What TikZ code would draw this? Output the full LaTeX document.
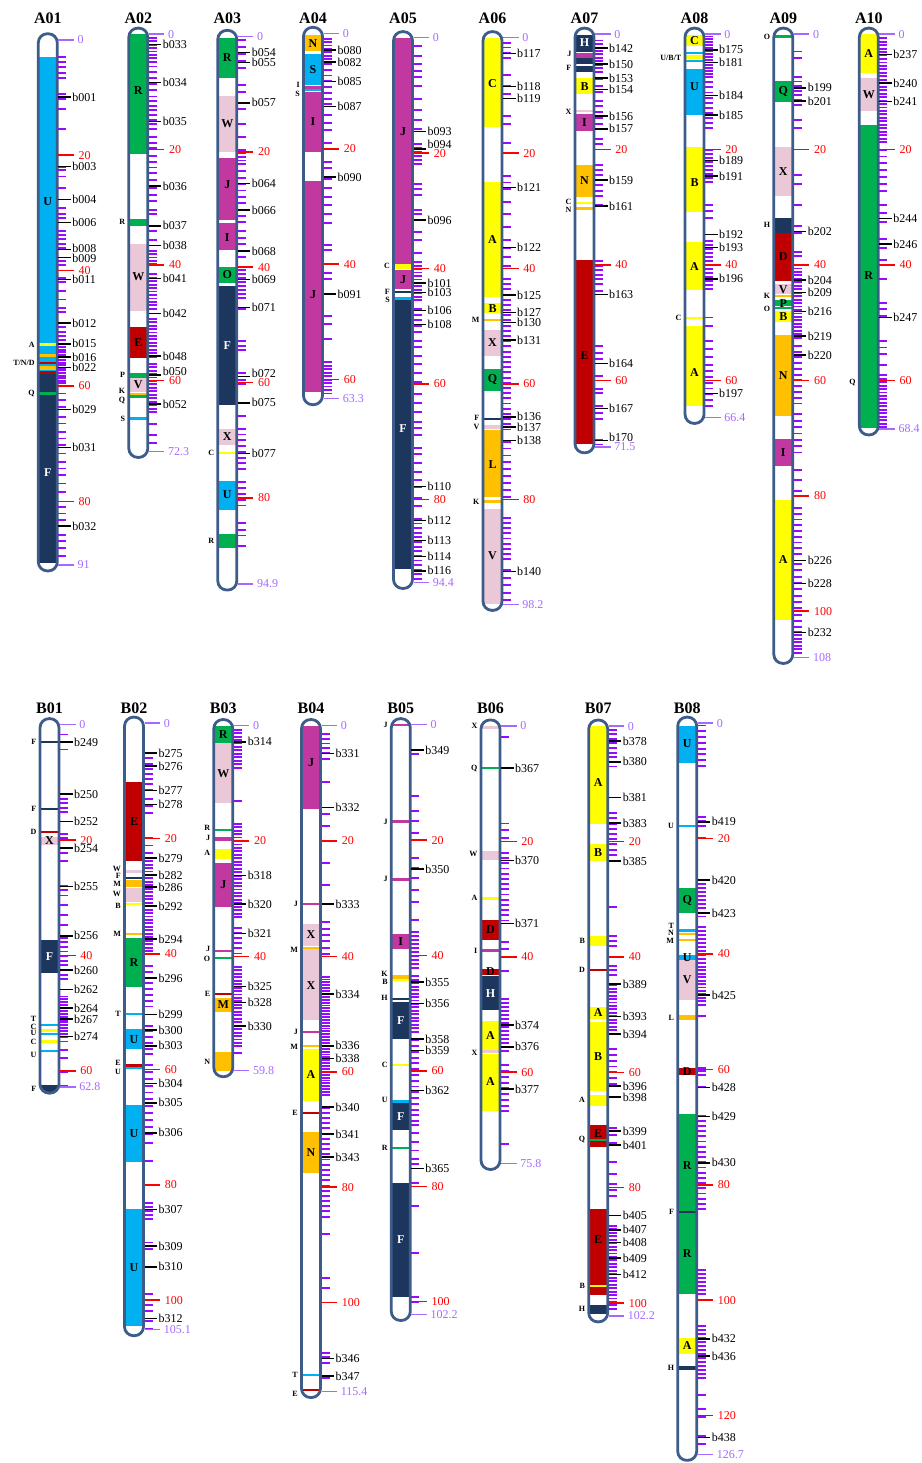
\documentclass[tikz,border=0pt]{standalone}
\usepackage{fontspec}
\setmainfont{Liberation Serif}
\definecolor{cU}{RGB}{0,176,240}
\definecolor{cF}{RGB}{28,54,94}
\definecolor{cR}{RGB}{0,176,80}
\definecolor{cW}{RGB}{234,200,216}
\definecolor{cJ}{RGB}{192,56,160}
\definecolor{cE}{RGB}{192,0,0}
\definecolor{cA}{RGB}{255,255,0}
\definecolor{cN}{RGB}{255,192,0}
\definecolor{outc}{RGB}{62,92,138}
\definecolor{tkc}{RGB}{150,10,255}
\definecolor{endc}{RGB}{165,105,255}
\tikzset{
 outl/.style={draw=outc, line width=2.8pt},
 tkl/.style={draw=tkc, line width=1.9pt},
 mkl/.style={draw=black, line width=1.5pt},
 mkt/.style={anchor=west, inner sep=0.8pt, font=\fontsize{12}{12}\selectfont},
 rdl/.style={draw=red, line width=1.5pt},
 rdt/.style={anchor=west, inner sep=0pt, xshift=4pt, text=red, font=\fontsize{12}{12}\selectfont},
 endl/.style={draw=endc, line width=1.5pt},
 endt/.style={anchor=west, inner sep=0pt, xshift=3pt, text=endc, font=\fontsize{12}{12}\selectfont},
 ttl/.style={font=\bfseries\fontsize{16}{16}\selectfont},
 blt/.style={inner sep=0pt, font=\bfseries\fontsize{12}{12}\selectfont},
 lfl/.style={anchor=east, inner sep=0pt, font=\bfseries\fontsize{8}{8}\selectfont},
}
\newcommand\xblk[3]{\fill[#1] (-11,#2) rectangle (11,#3);}
\newcommand\xbnd[2]{\fill[#1] (-11,#2-0.2) rectangle (11,#2+0.2);}
\newcommand\xlt[2]{\node[blt] at (0,#1) {#2};}
\newcommand\xltw[2]{\node[blt,text=white] at (0,#1) {#2};}
\newcommand\xlf[2]{\node[lfl] at (-13,#1) {#2};}
\newcommand\xmk[2]{\draw[mkl] (10.5,#1) -- (23,#1) node[mkt] {#2};}
\newcommand\xmkn[3]{\draw[mkl] (10.5,#1) -- (23,#1) node[mkt,yshift=#3] {#2};}
\newcommand\xtk[1]{\foreach \myt in {#1}{\draw[tkl] (10.5,\myt) -- (18.5,\myt);}}
\newcommand\xtr[3]{\pgfmathsetmacro\mytrn{int(round((#2-#1)/#3))}\foreach \myi in {0,...,\mytrn}{\pgfmathsetmacro\mytv{#1+\myi*#3}\draw[tkl] (10.5,\mytv) -- (18.5,\mytv);}}
\newcommand\xrd[1]{\foreach \myrv in {#1}{\draw[rdl] (10.5,\myrv) -- (26,\myrv) node[rdt] {\myrv};}}
\newcommand\Chrom[6]{%
\node[ttl] (t#6) at (#1,{#2<300?18:708}) {#6};
\begin{scope}[shift={(#1,#2)},y=-5.77pt]
 \fill[white,rounded corners=9pt] (-9.5,-1.05) rectangle (9.5,#3+1.05);
 \begin{scope}
 \clip[rounded corners=9pt] (-9.5,-1.05) rectangle (9.5,#3+1.05);
 #4
 \end{scope}
 \draw[outl,rounded corners=9pt] (-9.5,-1.05) rectangle (9.5,#3+1.05);
 #5
 \draw[endl] (10.5,0) -- (26,0) node[endt] {0};
 \draw[endl] (10.5,#3) -- (26,#3) node[endt] {#3};
\end{scope}}
\begin{document}
\begin{tikzpicture}[x=1pt,y=-1pt]
\useasboundingbox (0,0) rectangle (921,1463);
% ---------------- A01
\Chrom{47.8}{39.8}{91}{%
\xblk{cU}{3.0}{57.9}\xbnd{cA}{52.8}\xblk{cN}{54.4}{55.0}\xblk{cE}{55.8}{56.2}\xblk{cN}{56.6}{57.2}\xblk{cE}{57.4}{57.9}
\xblk{cF}{57.9}{90.6}\xbnd{cR}{61.3}\xlt{28}{U}\xltw{75}{F}}{%
\xlf{52.8}{A}\xlf{56.0}{T/N/D}\xlf{61.3}{Q}
\xtk{3.0,3.9,4.7,5.7,6.6,9.4,10.3,12.0,15.4,22.0,22.5,23.7,25.7,29.2,30.2,30.9,33.1,33.9,34.6,35.4,36.1,38.3,39.1,41.3,42.0,43.5,45.0,46.5,47.2,49.8,50.6,51.3,52.1}
\xtr{52.8}{59.8}{0.45}
\xtk{61.3,62.4,63.6,65.4,66.5,68.0,69.1,70.2,71.7,73.2,74.3,75.4,76.9,78.4,81.0,82.1,83.2,84.3,85.8,86.9,88.0,89.5}
\xrd{20,40,60,80}
\xmk{9.9}{b001}\xmk{22.0}{b003}\xmk{27.7}{b004}\xmk{31.7}{b006}\xmkn{36.3}{b008}{1pt}\xmkn{37.7}{b009}{-1pt}\xmk{41.5}{b011}\xmk{49.1}{b012}\xmk{52.7}{b015}\xmk{55.0}{b016}\xmk{56.8}{b022}\xmk{64.1}{b029}\xmk{70.7}{b031}\xmk{84.3}{b032}}{A01}
% ---------------- A02
\Chrom{138.3}{34.2}{72.3}{%
\xblk{cR}{0}{20.8}\xblk{cR}{32.0}{33.2}\xblk{cW}{36.3}{47.9}\xblk{cE}{50.8}{56.2}\xblk{cR}{58.7}{59.5}\xblk{cW}{59.6}{62.0}
\xbnd{cN}{62.3}\xblk{cR}{62.6}{63.1}\xbnd{cU}{66.6}
\xlt{9.8}{R}\xlt{42}{W}\xlt{53.5}{E}\xlt{60.8}{V}}{%
\xlf{32.6}{R}\xlf{59.1}{P}\xlf{61.9}{K}\xlf{63.4}{Q}\xlf{66.6}{S}
\xtr{0.6}{4.8}{0.6}\xtr{5.6}{9.6}{1}\xtr{10.8}{16.4}{0.8}
\xtk{17.8,18.8,19.7,21.1,22.1,23.1,24.1,25.2,26.7,27.8,28.9,30.4,31.2,34.1,35.6}
\xtr{37.5}{40}{0.6}\xtr{41.6}{47.6}{0.6}\xtr{49.3}{55.7}{0.6}\xtr{57.1}{65.3}{0.6}\xtk{67.5,69.4,70.8}
\xrd{20,40,60}
\xmk{1.8}{b033}\xmk{8.4}{b034}\xmk{15.1}{b035}\xmk{26.3}{b036}\xmk{33.2}{b037}\xmk{36.6}{b038}\xmk{42.3}{b041}\xmk{48.4}{b042}\xmk{55.8}{b048}\xmkn{59.1}{b050}{4pt}\xmk{64.1}{b052}}{A02}
% ---------------- A03
\Chrom{227.3}{36.4}{94.9}{%
\xblk{cR}{0.2}{7.2}\xblk{cW}{10.4}{20.1}\xblk{cJ}{21.0}{31.8}\xblk{cJ}{32.4}{37.0}\xblk{cR}{39.9}{42.7}\xblk{cF}{43.3}{63.9}
\xblk{cW}{68.1}{70.8}\xbnd{cA}{72.2}\xblk{cU}{77.0}{82.0}\xblk{cR}{86.2}{88.6}
\xlt{3.7}{R}\xlt{15.2}{W}\xlt{25.7}{J}\xlt{34.8}{I}\xlt{41.3}{O}\xltw{53.5}{F}\xlt{69.4}{X}\xlt{79.5}{U}}{%
\xlf{72.2}{C}\xlf{87.4}{R}
\xtr{0.7}{5.6}{1.2}\xtk{8.5,9.7,11.5,12.6,15.2,17.5}\xtr{19.7}{21.9}{0.6}\xtr{23.4}{32.3}{1.1}
\xtk{33.8,34.9,36,37.2,38.3}\xtr{40.5}{45.7}{0.7}\xtk{47.2,52.8,53.6,54.3,58.3,59.5,60.2,65.8}\xtr{68}{75.4}{1}\xtr{77.3}{81.4}{1}\xtk{84.3,85.5,86.5,88.3}
\xrd{20,40,60,80}
\xmk{2.8}{b054}\xmk{4.5}{b055}\xmk{11.5}{b057}\xmk{25.5}{b064}\xmk{30.1}{b066}\xmk{37.2}{b068}\xmk{42.1}{b069}\xmk{47.0}{b071}\xmkn{58.9}{b072}{3pt}\xmk{63.5}{b075}\xmk{72.3}{b077}}{A03}
% ---------------- A04
\Chrom{313}{33.4}{63.3}{%
\xblk{cN}{0.3}{3.1}\xblk{cU}{3.5}{9.0}\xbnd{cJ}{9.4}\xbnd{cU}{9.8}\xblk{cJ}{10.1}{20.5}\xblk{cJ}{25.6}{62.1}
\xlt{1.7}{N}\xlt{6.2}{S}\xlt{15.2}{I}\xlt{45.2}{J}}{%
\xlf{8.9}{I}\xlf{10.5}{S}
\xtr{0.9}{4.6}{0.6}\xtr{5.3}{12.7}{1}\xtk{14.2,15.5,16.8,19,22.3,23.4}\xtr{25.3}{32.7}{1.5}\xtk{36.7,37.5,41.5,42.6,48.9,50.4,53}\xtr{57}{62.2}{0.6}
\xrd{20,40,60}
\xmk{2.9}{b080}\xmk{5.0}{b082}\xmk{8.3}{b085}\xmk{12.7}{b087}\xmk{24.9}{b090}\xmk{45.2}{b091}}{A04}
% ---------------- A05
\Chrom{403}{37.7}{94.4}{%
\xblk{cJ}{0}{39.2}\xblk{cA}{39.3}{40.1}\xblk{cJ}{40.3}{43.6}\xbnd{cF}{44.1}\xbnd{cU}{45.2}\xblk{cF}{45.4}{92.1}
\xlt{16.3}{J}\xlt{42}{J}\xltw{67.8}{F}}{%
\xlf{39.5}{C}\xlf{44.0}{F}\xlf{45.5}{S}
\xtk{1.5,3.1,4.6,5.7,6.8,8.3,10.6,12.5,14.3,15.8}\xtr{18.4}{22.1}{0.7}\xtk{25.4,26.2,27.3,29.9,30.6,33.6,35.1,37.3,38.8}
\xtr{39.5}{45.5}{0.6}\xtr{47}{50.7}{1}\xtk{52.5,53.6,55.1,56.6,58.1,59.6,61.8,63.3,64.8,66.6,67.7,68.9,71.1,72.2,73.7,75.2,76.7,77.8,79.7,81.1}\xtr{83.4}{93.8}{0.8}
\xrd{20,40,60,80}
\xmk{16.3}{b093}\xmkn{19.3}{b094}{5pt}\xmk{31.6}{b096}\xmk{42.5}{b101}\xmk{44.2}{b103}\xmk{47.3}{b106}\xmk{49.7}{b108}\xmk{77.8}{b110}\xmk{83.7}{b112}\xmk{87.1}{b113}\xmk{89.9}{b114}\xmk{92.4}{b116}}{A05}
% ---------------- A06
\Chrom{492.5}{37.7}{98.2}{%
\xblk{cA}{0}{15.5}\xblk{cA}{25.0}{44.9}\xblk{cA}{46.0}{47.7}\xbnd{cN}{48.9}\xblk{cW}{50.7}{55.1}\xblk{cR}{57.4}{61.2}
\xbnd{cF}{66.1}\xblk{cW}{67.2}{67.8}\xblk{cN}{68.0}{79.6}\xbnd{cN}{80.4}\xblk{cW}{81.7}{98.2}
\xlt{8}{C}\xlt{35}{A}\xlt{46.9}{B}\xlt{52.9}{X}\xlt{59.3}{Q}\xlt{74}{L}\xlt{89.8}{V}}{%
\xlf{48.9}{M}\xlf{65.9}{F}\xlf{67.4}{V}\xlf{80.4}{K}
\xtk{0.9,1.7,2.6,3.5,6.5,8.3,9.8,13.5,15,18.2,24,25.1,26.2,28.4,30.6,32.8,35,36.5,38,39.5}\xtr{41.8}{67.8}{0.9}\xtr{70}{80}{1.2}\xtr{83.2}{90}{0.9}\xtr{92.3}{97.5}{1.3}
\xrd{20,40,60,80}
\xmk{2.7}{b117}\xmk{8.5}{b118}\xmk{10.5}{b119}\xmk{26.0}{b121}\xmk{36.4}{b122}\xmk{44.6}{b125}\xmk{47.6}{b127}\xmk{49.4}{b130}\xmk{52.4}{b131}\xmk{65.7}{b136}\xmk{67.5}{b137}\xmk{69.8}{b138}\xmk{92.5}{b140}}{A06}
% ---------------- A07
\Chrom{584.5}{34.2}{71.5}{%
\xblk{cF}{0.1}{3.0}\xblk{cJ}{3.2}{4.1}\xblk{cF}{4.2}{6.5}\xbnd{white}{5.3}\xblk{cA}{7.6}{10.4}\xblk{cW}{13.1}{13.5}\xblk{cJ}{13.9}{16.7}
\xblk{cN}{22.7}{28.2}\xbnd{cA}{29.3}\xbnd{cN}{30.2}\xblk{cE}{39.1}{71.1}
\xltw{1.5}{H}\xlt{9}{B}\xlt{15.3}{I}\xlt{25.4}{N}\xlt{55.7}{E}}{%
\xlf{3.5}{J}\xlf{5.9}{F}\xlf{13.4}{X}\xlf{29.0}{C}\xlf{30.4}{N}
\xtr{1.1}{6.7}{0.6}\xtk{7.8,8.9,10}\xtr{11.5}{15.9}{1}\xtk{18.2,19.1}\xtr{22.6}{28.2}{0.9}\xtk{29.6}\xtr{39.3}{43}{0.8}\xtk{44.5,54.1,55.2,56.3,59.3,61.5,62.2,64.5,65.6,66.7,70.4,71.1}
\xrd{20,40,60}
\xmk{2.4}{b142}\xmk{5.2}{b150}\xmk{7.6}{b153}\xmk{9.6}{b154}\xmk{14.2}{b156}\xmk{16.4}{b157}\xmk{25.3}{b159}\xmk{29.8}{b161}\xmk{45.1}{b163}\xmk{57.1}{b164}\xmk{64.9}{b167}\xmkn{70.4}{b170}{3pt}}{A07}
% ---------------- A08
\Chrom{694.5}{34.2}{66.4}{%
\xblk{cA}{0.1}{2.1}\xbnd{cU}{3.2}\xblk{cA}{3.6}{4.3}\xbnd{cU}{4.7}\xblk{cU}{6.1}{14.0}\xblk{cA}{19.6}{30.8}\xblk{cA}{36.1}{44.3}
\xbnd{cA}{49.2}\xblk{cA}{50.6}{64.4}
\xlt{1.1}{C}\xlt{9}{U}\xlt{25.7}{B}\xlt{40.3}{A}\xlt{58.6}{A}}{%
\xlf{4.1}{U/B/T}\xlf{49.2}{C}
\xtr{0.4}{6.7}{0.5}\xtr{7.4}{12.6}{0.9}\xtk{13.7,14.6,15.4,16.3}\xtr{20}{25.9}{0.7}\xtk{29.6,30.7,31.8}\xtr{35.8}{44.3}{0.7}\xtk{49.1,50.6,53.2,54.6,56,57.3}\xtr{58.4}{64.3}{1}
\xrd{20,40,60}
\xmk{2.7}{b175}\xmk{4.9}{b181}\xmk{10.6}{b184}\xmk{14.0}{b185}\xmk{21.9}{b189}\xmk{24.6}{b191}\xmk{34.7}{b192}\xmk{37.0}{b193}\xmk{42.4}{b196}\xmk{62.3}{b197}}{A08}
% ---------------- A09
\Chrom{783.3}{34.2}{108}{%
\xbnd{cR}{0.4}\xblk{cR}{8.1}{11.8}\xblk{cW}{19.6}{28.0}\xblk{cF}{31.8}{34.4}\xblk{cE}{34.4}{42.7}\xblk{cW}{43.3}{45.1}\xbnd{cN}{45.4}
\xblk{cR}{46.0}{47.1}\xbnd{cR}{47.4}\xblk{cA}{47.9}{49.9}\xblk{cN}{52.2}{66.2}\xblk{cJ}{70.1}{74.9}\xblk{cA}{80.7}{101.5}
\xlt{9.9}{Q}\xlt{23.8}{X}\xlt{38.5}{D}\xlt{44.2}{V}\xlt{46.6}{P}\xlt{48.9}{B}\xlt{59.2}{N}\xlt{72.5}{I}\xlt{91.1}{A}}{%
\xlf{0.5}{O}\xlf{33.0}{H}\xlf{45.3}{K}\xlf{47.6}{O}
\xtk{3,4.1}\xtr{7.4}{11.8}{0.8}\xtk{14.8,16.3,24.4,25.9,29.6,33.3,34.4,37.7,38.5}\xtr{40}{52.5}{0.6}\xtr{54}{63.6}{1}\xtr{65.9}{72.5}{1.1}\xtk{75.5,77.3,79.2}\xtr{82.1}{90.3}{1}\xtr{91.8}{102.9}{1.1}\xtr{103.6}{107.3}{0.6}
\xrd{20,40,60,80,100}
\xmk{9.3}{b199}\xmk{11.6}{b201}\xmk{34.2}{b202}\xmk{42.6}{b204}\xmk{44.8}{b209}\xmk{48.1}{b216}\xmk{52.3}{b219}\xmk{55.6}{b220}\xmk{91.2}{b226}\xmk{95.2}{b228}\xmk{103.7}{b232}}{A09}
% ---------------- A10
\Chrom{868.8}{34.2}{68.4}{%
\xblk{cA}{0}{6.7}\xblk{cW}{7.6}{13.3}\xblk{cR}{15.7}{68.2}
\xlt{3.4}{A}\xlt{10.4}{W}\xlt{41.8}{R}}{%
\xlf{60.4}{Q}
\xtr{0.7}{18.5}{0.6}\xtr{20}{27.3}{1.2}\xtk{29.6,31,32.5,35.5,37,39.2,42.5,46.6,47.7,48.8,53.2,54.3,55.4,57.3}\xtr{59.1}{68}{0.6}
\xrd{20,40,60}
\xmk{3.5}{b237}\xmk{8.5}{b240}\xmk{11.7}{b241}\xmk{31.9}{b244}\xmk{36.4}{b246}\xmk{49.1}{b247}}{A10}
% ---------------- B01
\Chrom{49.5}{724.7}{62.8}{%
\xbnd{cF}{3.0}\xbnd{cF}{14.6}\xbnd{cE}{18.6}\xblk{cW}{19.5}{20.8}\xblk{cF}{37.3}{43.1}
\xbnd{cU}{52.0}\xblk{cA}{52.7}{53.2}\xbnd{cU}{53.6}\xblk{cA}{54.6}{55.1}\xbnd{cU}{56.6}\xblk{cF}{62.4}{64}
\xlt{20.1}{X}\xltw{40.2}{F}}{%
\xlf{3.0}{F}\xlf{14.6}{F}\xlf{18.6}{D}\xlf{51.0}{T}\xlf{52.3}{C}\xlf{53.5}{U}\xlf{55.0}{C}\xlf{57.2}{U}\xlf{63.2}{F}
\xtk{1.7,3,4.3}\xtr{12}{15.4}{0.8}\xtk{18.9,19.7,22.3,23.6,27.9,28.7,29.6,31.3,33,34.7}\xtr{36.9}{42.9}{0.8}\xtk{44.1}\xtr{47.1}{54}{0.5}\xtk{54.9,56.3,57.8,60.2,62.6}
\xrd{20,40,60}
\xmk{3.0}{b249}\xmk{12.0}{b250}\xmk{16.8}{b252}\xmk{21.4}{b254}\xmk{28.0}{b255}\xmk{36.6}{b256}\xmk{42.5}{b260}\xmk{45.9}{b262}\xmk{49.1}{b264}\xmk{51.0}{b267}\xmk{54.0}{b274}}{B01}
% ---------------- B02
\Chrom{134}{723.2}{105.1}{%
\xblk{cE}{10.2}{23.9}\xblk{cW}{25.4}{26.0}\xbnd{cF}{26.8}\xblk{cN}{27.2}{28.4}\xblk{cW}{28.6}{31.0}\xbnd{cA}{31.3}\xbnd{cN}{36.5}
\xblk{cR}{37.2}{45.8}\xbnd{cU}{50.4}\xblk{cU}{53.0}{56.5}\xbnd{cE}{59.3}\xbnd{cU}{59.7}\xblk{cU}{66.2}{76.1}\xblk{cU}{84.2}{104.4}
\xlt{17}{E}\xlt{41.5}{R}\xlt{54.8}{U}\xlt{71.2}{U}\xlt{94.3}{U}}{%
\xlf{25.2}{W}\xlf{26.5}{F}\xlf{27.9}{M}\xlf{29.6}{W}\xlf{31.6}{B}\xlf{36.5}{M}\xlf{50.4}{T}\xlf{58.9}{E}\xlf{60.5}{U}
\xtr{5.2}{11.4}{0.9}\xtk{13.1,14.3,15.6,19.9,21.2,22.5}\xtr{23.3}{39.5}{0.6}\xtr{42.1}{48.9}{1}\xtr{52.4}{57.5}{1}\xtr{59.2}{71.1}{1.2}\xtk{72.8,75.8}\xtr{83.1}{85.7}{0.7}\xtk{90,91.2,98.9,99.9,100.9,101.8,103.6,104.9}
\xrd{20,40,60,80,100}
\xmk{5.2}{b275}\xmk{7.4}{b276}\xmk{11.7}{b277}\xmk{14.1}{b278}\xmk{23.4}{b279}\xmk{26.3}{b282}\xmk{28.4}{b286}\xmk{31.7}{b292}\xmk{37.4}{b294}\xmk{44.2}{b296}\xmk{50.5}{b299}\xmk{53.2}{b300}\xmk{55.9}{b303}\xmk{62.4}{b304}\xmk{65.8}{b305}\xmk{71.0}{b306}\xmk{84.3}{b307}\xmk{90.6}{b309}\xmk{94.2}{b310}\xmk{103.2}{b312}}{B02}
% ---------------- B03
\Chrom{223.3}{725.6}{59.8}{%
\xblk{cR}{0}{3.1}\xblk{cW}{3.1}{13.4}\xbnd{cR}{18.1}\xblk{cJ}{19.3}{20.0}\xblk{cA}{21.3}{23.1}\xblk{cJ}{23.8}{31.4}\xbnd{cJ}{39.1}\xbnd{cR}{40.3}
\xbnd{cE}{46.5}\xblk{cN}{47.2}{49.7}\xblk{cN}{56.6}{59.8}
\xlt{1.5}{R}\xlt{8.3}{W}\xlt{27.6}{J}\xlt{48.4}{M}}{%
\xlf{17.8}{R}\xlf{19.5}{J}\xlf{22.1}{A}\xlf{38.7}{J}\xlf{40.5}{O}\xlf{46.5}{E}\xlf{58.3}{N}
\xtr{0.7}{7.5}{0.6}\xtk{13.1}\xtr{17}{33.3}{0.6}\xtr{35}{39.3}{0.9}\xtr{41.8}{55.5}{0.6}\xtk{56.8}
\xrd{20,40}
\xmk{2.8}{b314}\xmk{26.0}{b318}\xmk{30.9}{b320}\xmk{36.0}{b321}\xmk{45.2}{b325}\xmk{48.0}{b328}\xmk{52.1}{b330}}{B03}
% ---------------- B04
\Chrom{311}{725.6}{115.4}{%
\xblk{cJ}{0}{14.4}\xbnd{cJ}{30.9}\xblk{cW}{34.3}{38.2}\xbnd{cN}{38.6}\xblk{cW}{38.8}{51.0}\xbnd{cJ}{53.1}\xbnd{cN}{55.5}
\xblk{cA}{56.0}{65.0}\xbnd{cE}{67.1}\xblk{cN}{70.4}{77.6}\xbnd{cU}{112.5}\xbnd{cE}{115.2}
\xlt{6.5}{J}\xlt{36.2}{X}\xlt{45}{X}\xlt{60.5}{A}\xlt{74}{N}}{%
\xlf{30.9}{J}\xlf{38.9}{M}\xlf{53.1}{J}\xlf{55.7}{M}\xlf{67.1}{E}\xlf{112.5}{T}\xlf{115.9}{E}
\xtk{1.5,2.3,3.1,3.9,4.7,5.8,9.7,15.3,17.4,23.8,27.7}\xtr{34.1}{39.3}{1.1}\xtr{43.5}{64.1}{0.5}\xtr{66.2}{84.7}{0.9}\xtk{88.1,95.8,97.5,108.7,109.5,110.4,113}
\xrd{20,40,60,80,100}
\xmk{4.8}{b331}\xmk{14.2}{b332}\xmk{30.9}{b333}\xmk{46.5}{b334}\xmk{55.5}{b336}\xmk{57.7}{b338}\xmk{66.1}{b340}\xmk{70.8}{b341}\xmk{74.8}{b343}\xmk{109.7}{b346}\xmk{112.7}{b347}}{B04}
% ---------------- B05
\Chrom{400.8}{724.7}{102.2}{%
\xbnd{cJ}{0.1}\xbnd{cJ}{16.8}\xbnd{cJ}{26.8}\xblk{cJ}{36.2}{38.9}\xblk{cN}{43.4}{44.0}\xbnd{cA}{44.3}\xbnd{cF}{47.5}\xblk{cF}{48.1}{54.5}
\xbnd{cA}{59.0}\xblk{cU}{65.0}{65.5}\xblk{cF}{65.5}{70.3}\xbnd{cR}{73.3}\xblk{cF}{79.5}{99.2}
\xlt{37.6}{I}\xltw{51.3}{F}\xltw{67.9}{F}\xltw{89.3}{F}}{%
\xlf{0}{J}\xlf{16.8}{J}\xlf{26.8}{J}\xlf{43.1}{K}\xlf{44.6}{B}\xlf{47.3}{H}\xlf{59.0}{C}\xlf{65.0}{U}\xlf{73.3}{R}
\xtk{4.3,5,12.4,14.9,16.7,18.8,23.1,24.8,26.5,28.6,30.8,33.8}\xtr{35.9}{41.9}{0.7}\xtr{43.6}{53}{0.6}\xtr{54.7}{68.4}{1}\xtk{69.3,70.8,72.3,73.8,75.3,76.1,79.5,83.4,91.5,99.2,100}
\xrd{20,40,60,80,100}
\xmk{4.4}{b349}\xmk{25.0}{b350}\xmk{44.6}{b355}\xmk{48.3}{b356}\xmk{54.5}{b358}\xmk{56.5}{b359}\xmk{63.4}{b362}\xmk{76.9}{b365}}{B05}
% ---------------- B06
\Chrom{490.5}{726}{75.8}{%
\xblk{cW}{0}{0.5}\xbnd{cR}{7.3}\xblk{cW}{21.7}{23.3}\xbnd{cA}{29.9}\xblk{cE}{33.7}{37.0}\xbnd{cJ}{38.9}\xblk{cE}{42.1}{43.2}
\xblk{cF}{43.4}{49.2}\xblk{cA}{51.1}{56.2}\xbnd{cW}{56.4}\xblk{cA}{56.8}{66.7}
\xlt{35.3}{D}\xlt{42.6}{D}\xltw{46.3}{H}\xlt{53.6}{A}\xlt{61.7}{A}}{%
\xlf{0}{X}\xlf{7.3}{Q}\xlf{22.2}{W}\xlf{29.7}{A}\xlf{38.9}{I}\xlf{56.6}{X}
\xtk{1.9,7.3,16.9,18.1,19.4}\xtr{22}{34}{0.9}\xtk{37.4,38.7,40,42.5}\xtr{47.3}{56.2}{0.7}\xtr{58.8}{66.5}{1}\xtk{72.5}
\xrd{20,40,60}
\xmk{7.3}{b367}\xmk{23.3}{b370}\xmk{34.2}{b371}\xmk{51.8}{b374}\xmk{55.6}{b376}\xmk{62.9}{b377}}{B06}
% ---------------- B07
\Chrom{598.2}{726.1}{102.2}{%
\xblk{cA}{0}{17.0}\xblk{cA}{20.5}{23.4}\xblk{cA}{36.4}{38.1}\xbnd{cE}{42.3}\xblk{cA}{48.7}{50.7}\xblk{cA}{51.3}{63.2}\xblk{cA}{63.9}{65.9}
\xblk{cE}{69.2}{73.0}\xbnd{cR}{71.7}\xblk{cE}{83.7}{98.6}\xbnd{cA}{97.0}\xblk{cF}{100.3}{101.8}
\xlt{9.8}{A}\xlt{22}{B}\xlt{49.7}{A}\xlt{57.3}{B}\xlt{70.6}{E}\xlt{89}{E}}{%
\xlf{37.3}{B}\xlf{42.3}{D}\xlf{64.8}{A}\xlf{71.7}{Q}\xlf{97.0}{B}\xlf{101}{H}
\xtr{0.6}{6.6}{0.8}\xtr{15.1}{21.9}{0.9}\xtk{31.3,36.4,37.2,38.1,41.5,42.3,43.2}\xtr{44.9}{53.4}{0.6}\xtr{56}{61.9}{1}\xtk{69.6,70.9,72.2,75.6,77.7,79.4,80.4,81.5}\xtr{86.6}{101.1}{0.6}
\xrd{20,40,60,80,100}
\xmk{2.6}{b378}\xmk{6.2}{b380}\xmk{12.4}{b381}\xmk{16.8}{b383}\xmk{23.4}{b385}\xmk{44.7}{b389}\xmk{50.3}{b393}\xmk{53.4}{b394}\xmk{62.4}{b396}\xmk{64.3}{b398}\xmk{70.2}{b399}\xmk{72.6}{b401}\xmk{84.8}{b405}\xmk{87.3}{b407}\xmk{89.5}{b408}\xmk{92.2}{b409}\xmk{95.0}{b412}}{B07}
% ---------------- B08
\Chrom{687.2}{723.2}{126.7}{%
\xblk{cU}{0.4}{6.9}\xbnd{cU}{17.8}\xblk{cR}{28.5}{32.9}\xbnd{cU}{35.9}\xbnd{cN}{36.5}\xbnd{cN}{37.6}\xblk{cU}{40.2}{41.1}\xblk{cW}{41.1}{47.9}
\xblk{cN}{50.5}{51.4}\xblk{cE}{59.7}{60.9}\xblk{cR}{67.8}{84.7}\xbnd{cF}{84.7}\xblk{cR}{84.9}{99.0}\xblk{cA}{106.5}{109.3}\xblk{cF}{111.4}{112.1}
\xlt{3.6}{U}\xlt{30.7}{Q}\xlt{40.6}{U}\xlt{44.5}{V}\xlt{60.3}{D}\xlt{76.7}{R}\xlt{92}{R}\xlt{107.9}{A}}{%
\xlf{17.8}{U}\xlf{35.2}{T}\xlf{36.4}{N}\xlf{37.8}{M}\xlf{51}{L}\xlf{84.7}{F}\xlf{111.7}{H}
\xtr{0.4}{7.1}{1}\xtk{16.3,17,17.8,19.9}\xtr{27.2}{33.6}{0.7}\xtr{35.3}{41.7}{0.7}\xtr{42.2}{49}{0.6}\xtk{50.7,59.7,60.3,61,63.1}\xtr{68}{84}{0.9}\xtr{94.7}{99}{0.7}\xtr{104.4}{113.8}{0.7}\xtk{116.5,118.9,120.2,123.6,124.9}
\xrd{20,40,60,80,100,120}
\xmk{17.1}{b419}\xmk{27.2}{b420}\xmk{32.9}{b423}\xmk{47.1}{b425}\xmk{63.1}{b428}\xmk{68.2}{b429}\xmk{76.2}{b430}\xmk{106.7}{b432}\xmk{109.7}{b436}\xmk{123.8}{b438}}{B08}
\end{tikzpicture}
\end{document}
